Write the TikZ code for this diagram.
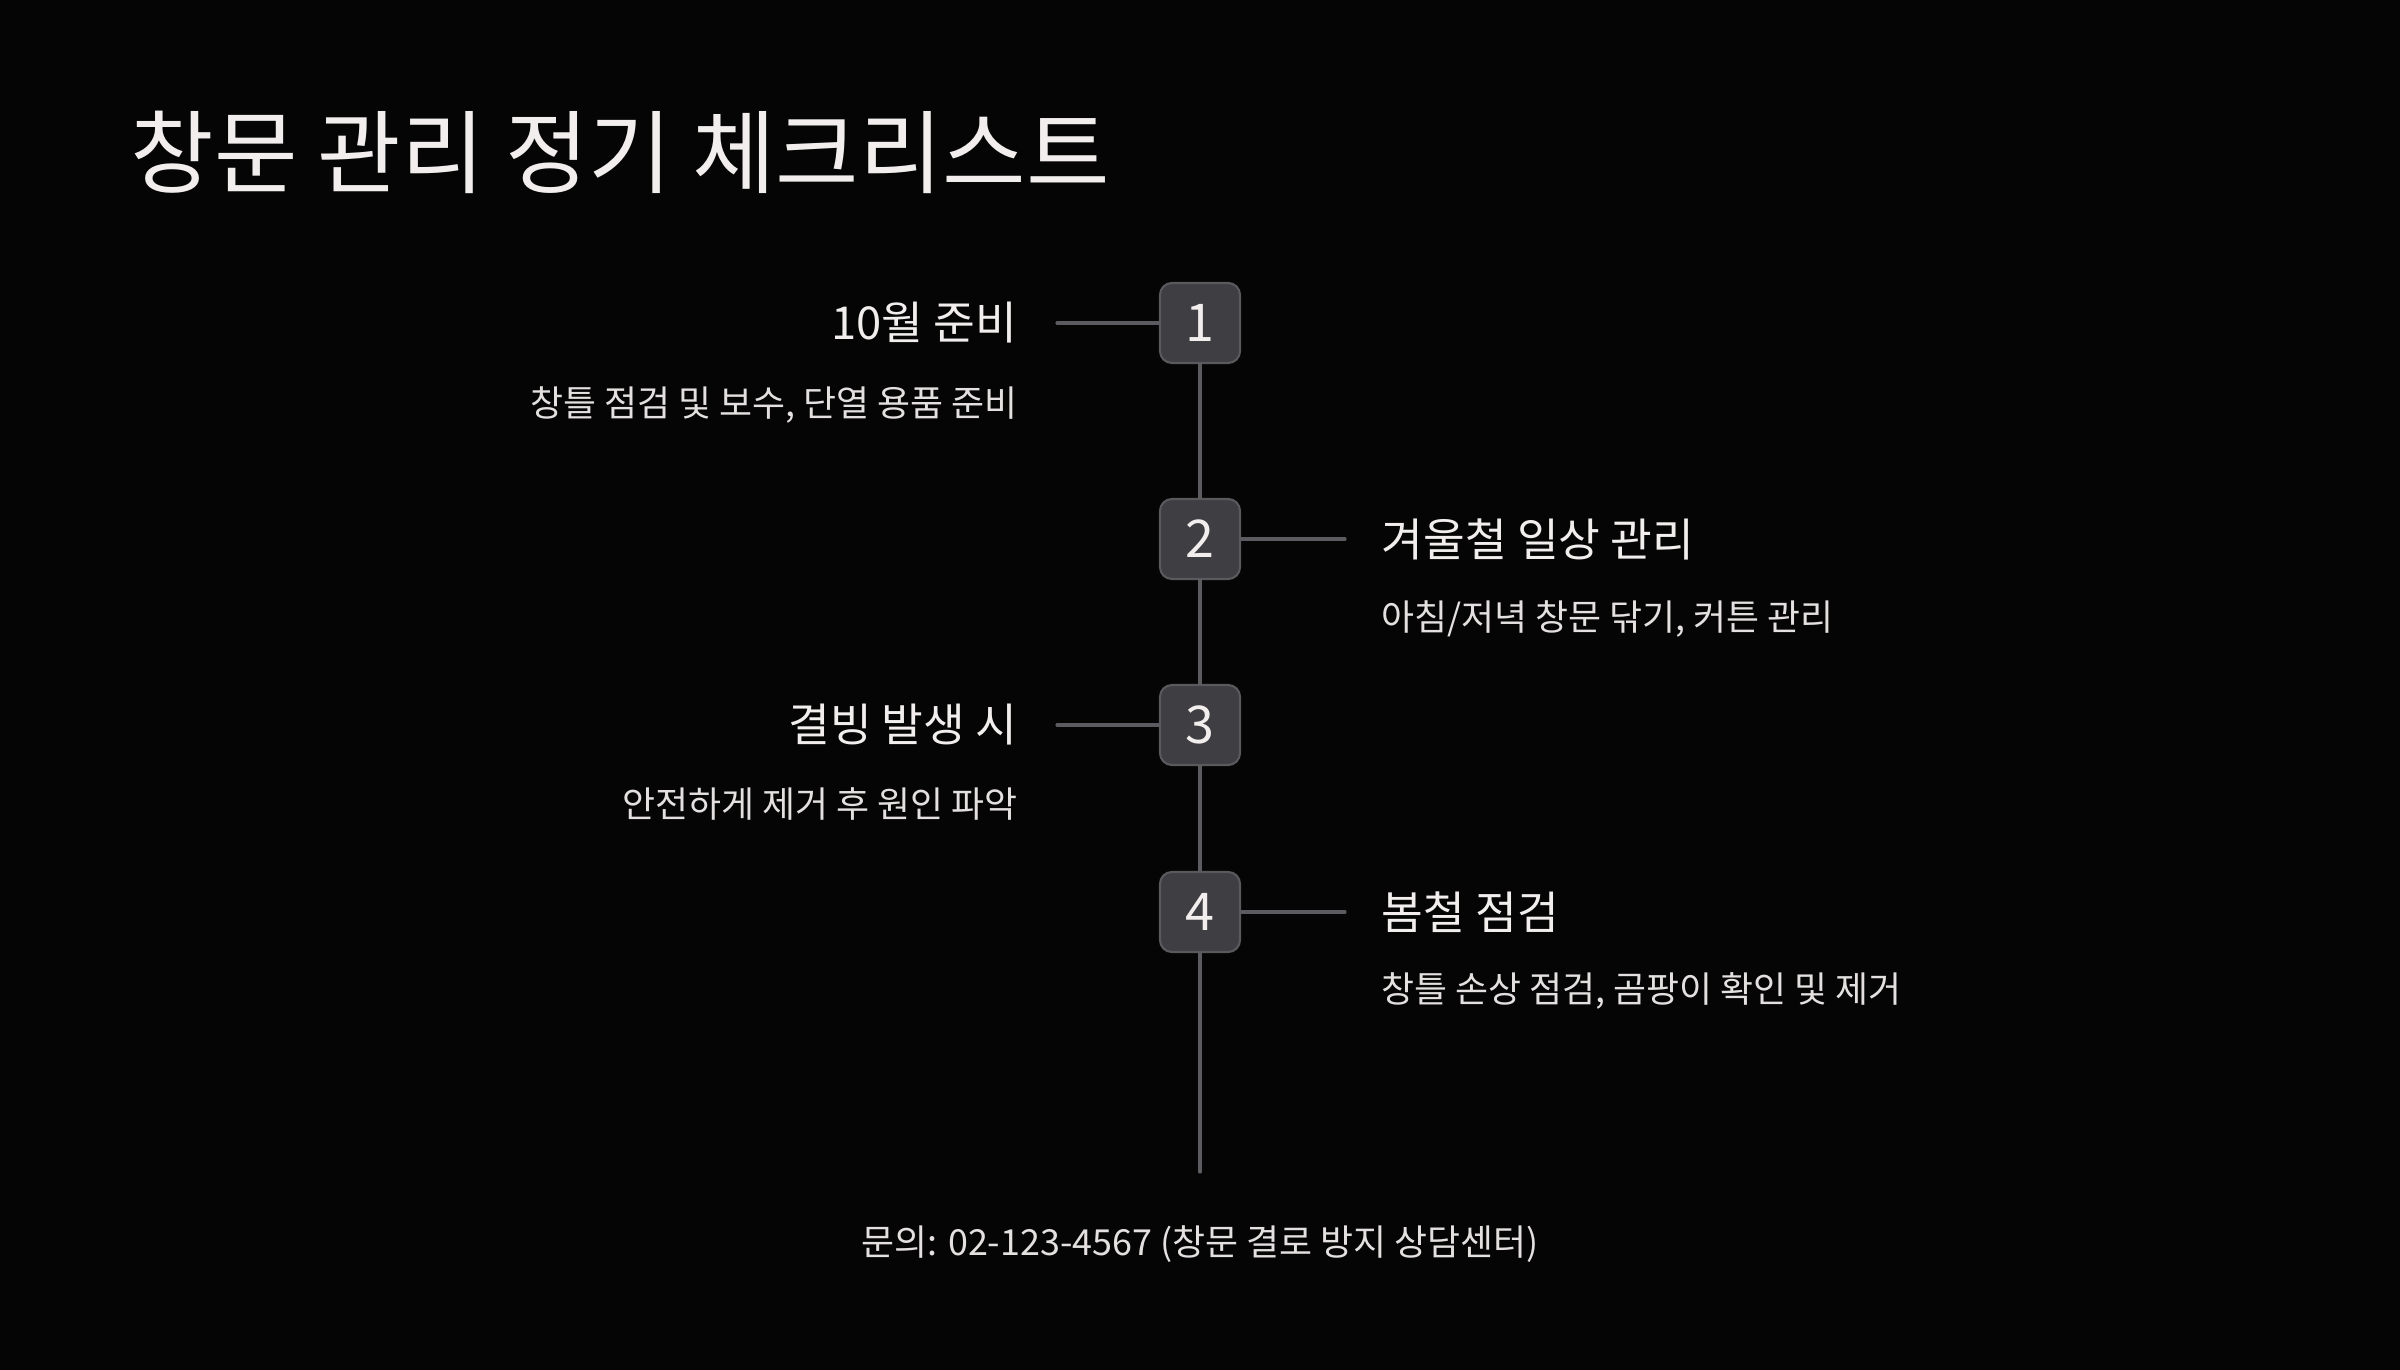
\documentclass[tikz,border=0pt]{standalone}
\usepackage{fontspec}
\setmainfont{Noto Sans CJK KR}
\definecolor{bg}{HTML}{050505}
\definecolor{fg}{HTML}{F2EEEE}
\definecolor{subfg}{HTML}{E4E0E0}
\definecolor{boxfill}{HTML}{3F3E43}
\definecolor{boxline}{HTML}{5A595E}
\definecolor{track}{HTML}{5C5B60}
\begin{document}
\begin{tikzpicture}[x=0.01cm,y=-0.01cm,
  stepbox/.style={draw=boxline,fill=boxfill,line width=0.6pt,rounded corners=0.12cm,
    minimum size=0.8cm,inner sep=0pt,text=fg,font=\fontsize{14.8}{17}\selectfont},
  stephead/.style={text=fg,inner sep=0pt,font=\fontsize{12.9}{15}\selectfont},
  stepnote/.style={text=subfg,inner sep=0pt,font=\fontsize{10.2}{12}\selectfont},
  track/.style={draw=track,line width=0.9pt,line cap=round}]
  % page / background
  \fill[bg] (0,0) rectangle (2400,1370);
  \useasboundingbox (0,0) rectangle (2400,1370);

  % title
  \node[text=fg,inner sep=0pt,anchor=west,font=\fontsize{25.8}{30}\selectfont] (title) at (130,152) {창문 관리 정기 체크리스트};

  % timeline ends
  \coordinate (tend) at (1200,1172);
  \coordinate (l1) at (1057,323);
  \coordinate (r2) at (1345,539);
  \coordinate (l3) at (1057,725);
  \coordinate (r4) at (1345,912);

  % steps
  \node[stepbox] (s1) at (1200,323) {1};
  \node[stepbox] (s2) at (1200,539) {2};
  \node[stepbox] (s3) at (1200,725) {3};
  \node[stepbox] (s4) at (1200,912) {4};

  % connectors
  \draw[track] (s1) -- (s2) -- (s3) -- (s4) -- (tend);
  \draw[track] (l1) -- (s1.west);
  \draw[track] (s2.east) -- (r2);
  \draw[track] (l3) -- (s3.west);
  \draw[track] (s4.east) -- (r4);

  % labels
  \node[stephead,anchor=east] (h1) at (1018,323) {10월 준비};
  \node[stepnote,anchor=east] (n1) at (1018,405) {창틀 점검 및 보수, 단열 용품 준비};
  \node[stephead,anchor=west] (h2) at (1381,539) {겨울철 일상 관리};
  \node[stepnote,anchor=west] (n2) at (1381,619) {아침/저녁 창문 닦기, 커튼 관리};
  \node[stephead,anchor=east] (h3) at (1018,725) {결빙 발생 시};
  \node[stepnote,anchor=east] (n3) at (1018,804) {안전하게 제거 후 원인 파악};
  \node[stephead,anchor=west] (h4) at (1381,912) {봄철 점검};
  \node[stepnote,anchor=west] (n4) at (1381,991) {창틀 손상 점검, 곰팡이 확인 및 제거};

  % footer
  \node[stepnote] (contact) at (1200,1244) {문의: 02-123-4567 (창문 결로 방지 상담센터)};
\end{tikzpicture}
\end{document}
